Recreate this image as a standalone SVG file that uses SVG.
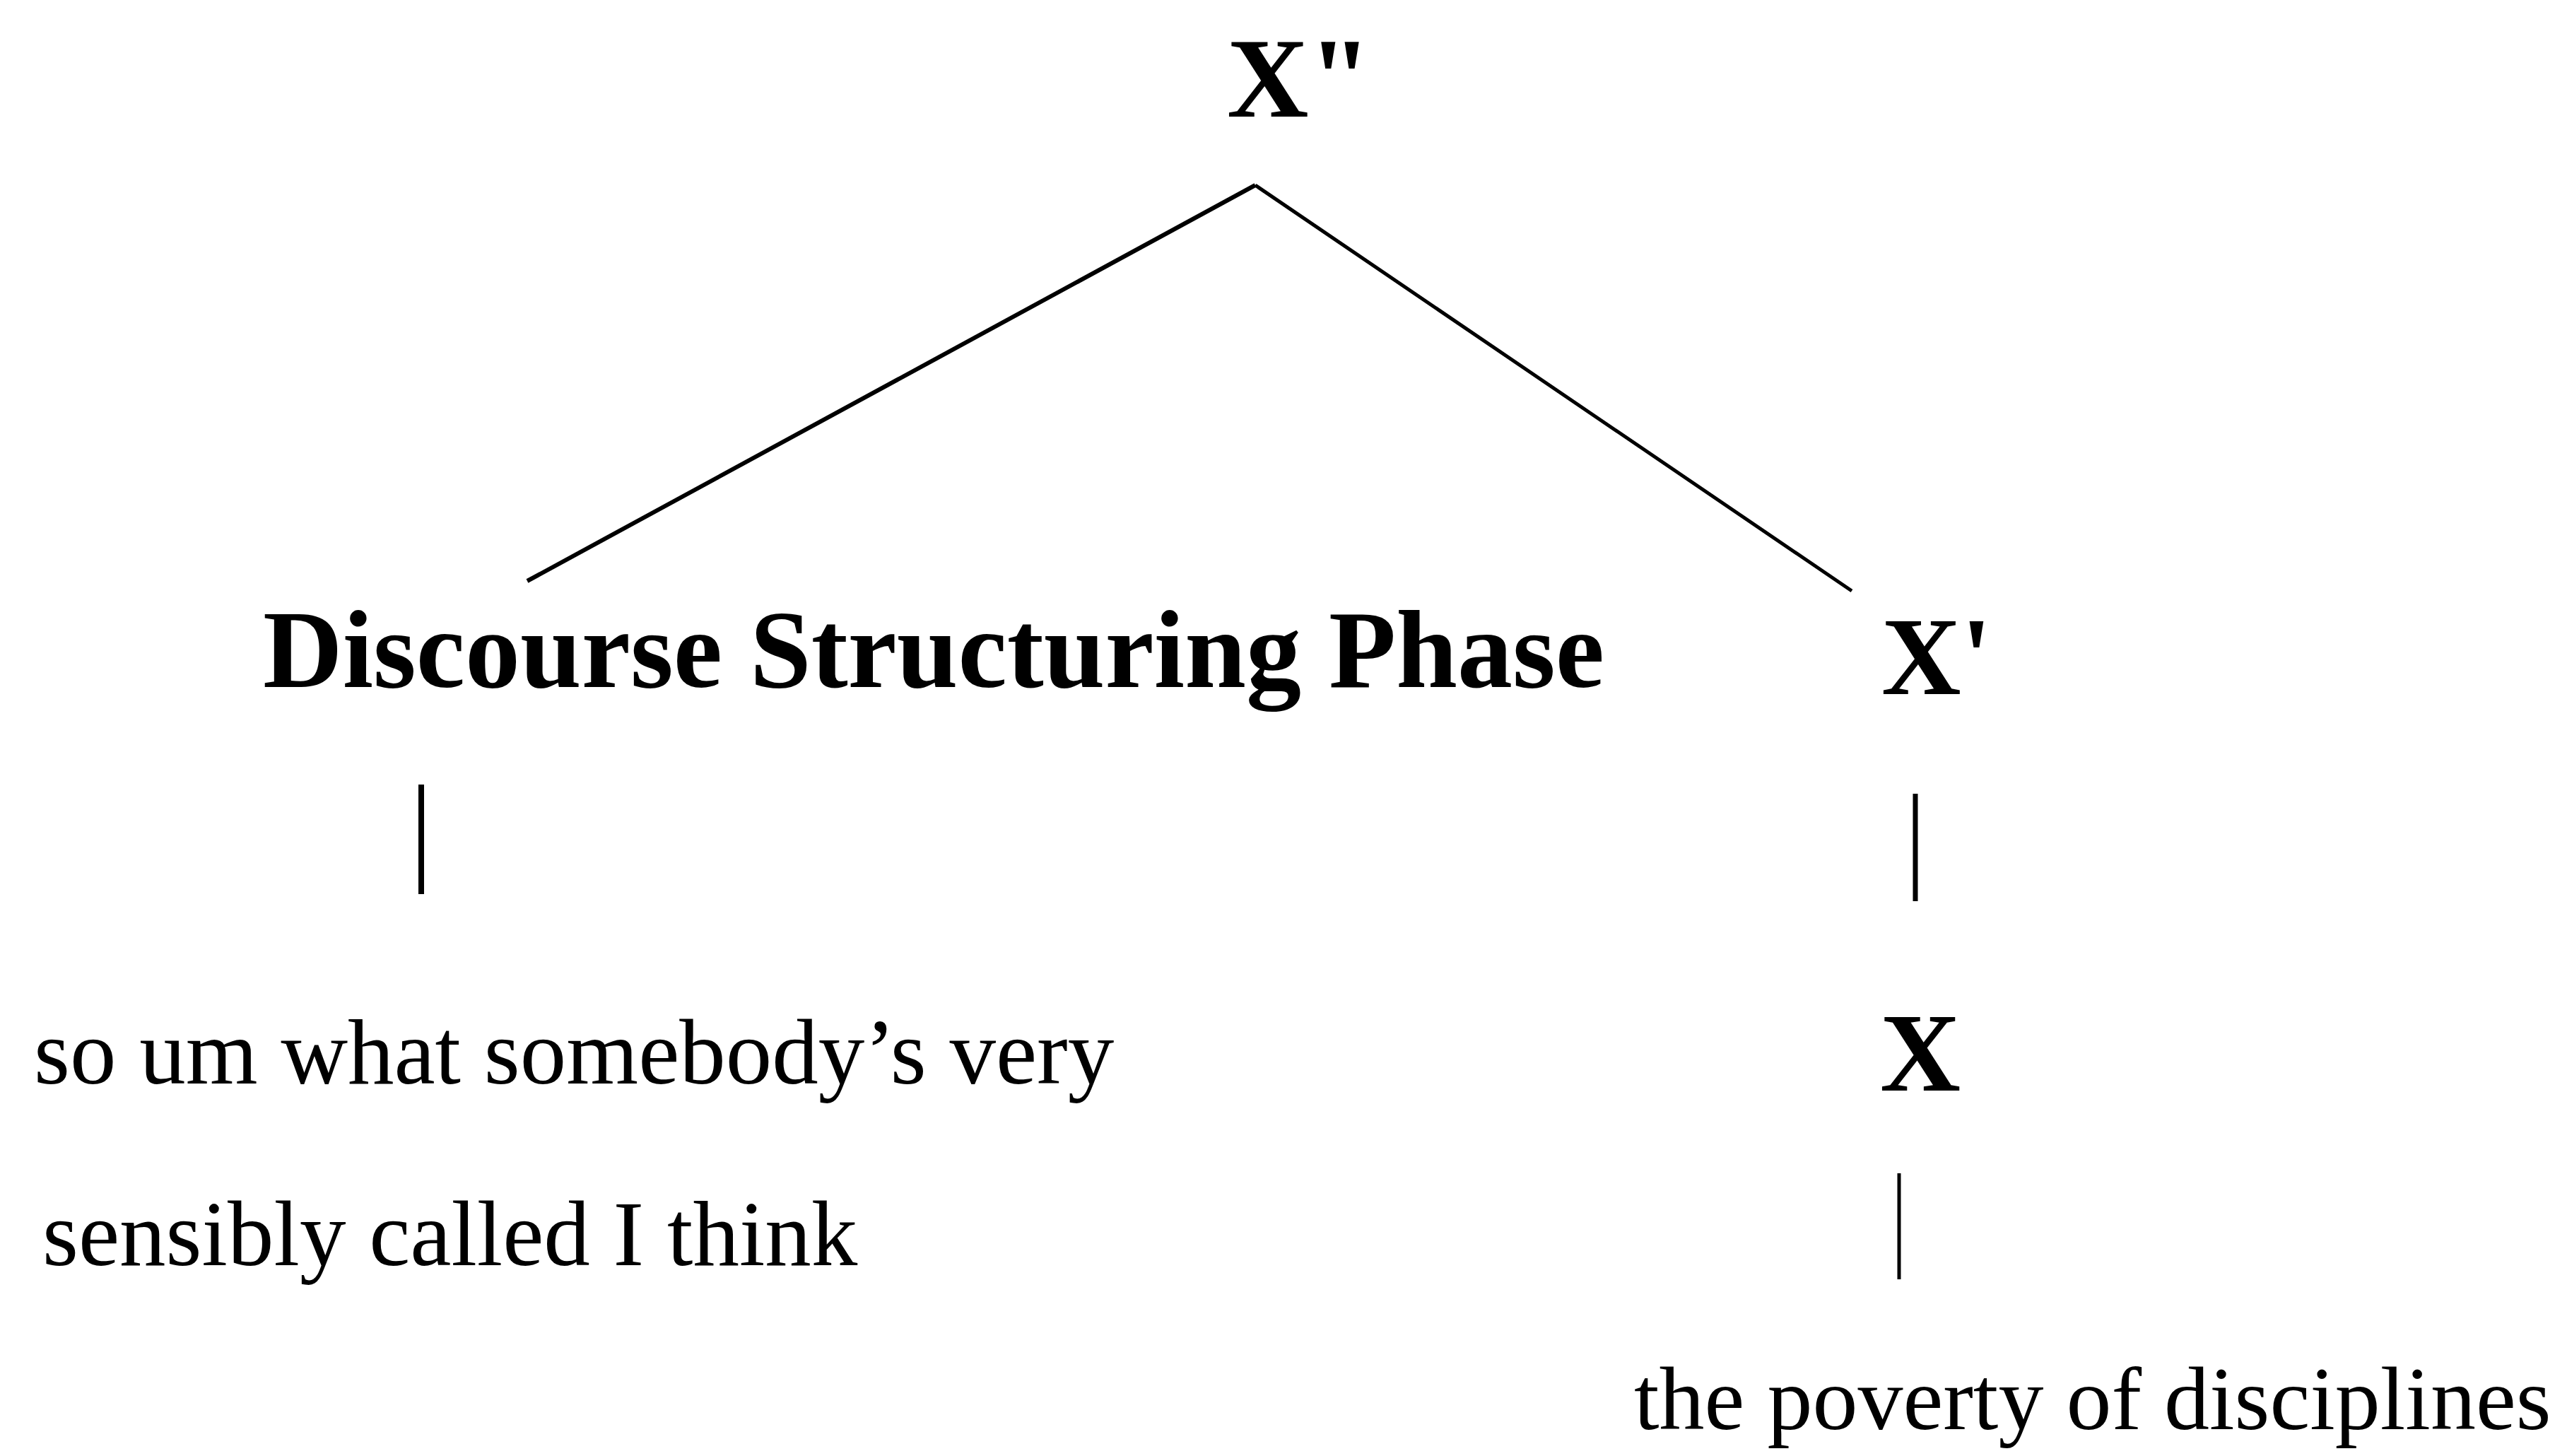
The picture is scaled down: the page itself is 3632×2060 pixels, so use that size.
<svg xmlns="http://www.w3.org/2000/svg" width="3632" height="2060" viewBox="0 0 3632 2060">
<style>
.lbl{font-family:"Liberation Serif","Times New Roman",serif;font-weight:bold;fill:#000}
.txt{font-family:"Liberation Serif","Times New Roman",serif;fill:#000}
.edge{stroke:#000;fill:none;stroke-linecap:butt}
</style>
<rect width="3632" height="2060" fill="#fff"/>
<g id="connectors">
<line class="edge" x1="1776" y1="262" x2="746" y2="822" stroke-width="6"/>
<line class="edge" x1="1776" y1="262" x2="2620" y2="836" stroke-width="5"/>
<line class="edge" x1="596" y1="1110" x2="596" y2="1265" stroke-width="8"/>
<line class="edge" x1="2710" y1="1123" x2="2710" y2="1275" stroke-width="7"/>
<line class="edge" x1="2687" y1="1660" x2="2687" y2="1810" stroke-width="5"/>
</g>
<g id="node-xbar2"><text class="lbl" x="1736" y="165" font-size="160">X"</text></g>
<g id="node-dsp"><text class="lbl" x="372" y="972" font-size="156">Discourse Structuring Phase</text></g>
<g id="node-xbar1"><text class="lbl" x="2662" y="982" font-size="156">X'</text></g>
<g id="node-x"><text class="lbl" x="2660" y="1543" font-size="158">X</text></g>
<g id="node-dsp-text">
<text class="txt" x="48" y="1533" font-size="131">so um what somebody’s very</text>
<text class="txt" x="60" y="1790" font-size="131">sensibly called I think</text>
</g>
<g id="node-x-text"><text class="txt" x="2312" y="2022" font-size="128">the poverty of disciplines</text></g>
</svg>
